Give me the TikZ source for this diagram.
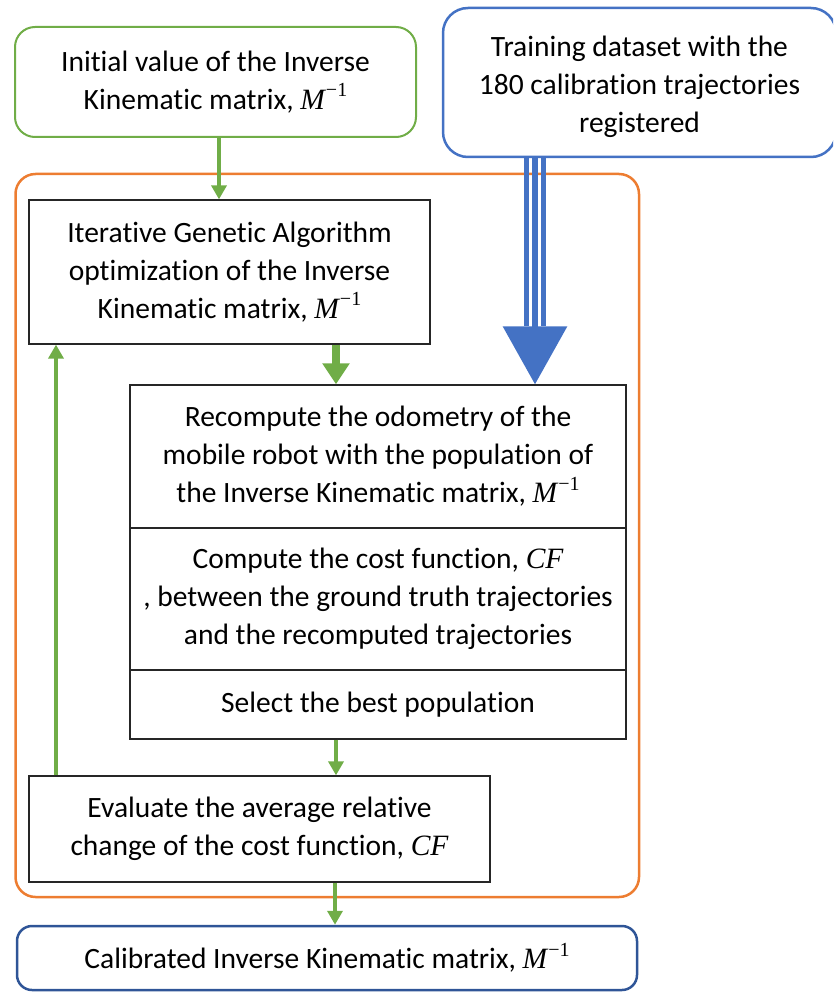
\documentclass[tikz,border=0pt]{standalone}
\usepackage{fontspec}
\setmainfont{Carlito}[Ligatures=NoCommon]
\newfontfamily\mfont{Liberation Serif}
\newcommand{\Minv}{{\mfont\itshape M}\kern1pt\raisebox{0.42em}{\fontsize{20}{20}\selectfont\mfont −1}}
\newcommand{\CFm}{{\mfont\itshape CF}}
\usetikzlibrary{arrows.meta,calc}
\definecolor{ggreen}{HTML}{70AD47}
\definecolor{oorange}{HTML}{ED7D31}
\definecolor{bblue}{HTML}{4472C4}
\definecolor{dblue}{HTML}{2F5597}
\begin{document}
\begin{tikzpicture}[x=1pt,y=-1pt,
  txt/.style={font=\fontsize{29.5}{38}\selectfont, align=center, inner sep=0pt},
  blackbox/.style={txt, draw=black!85, line width=1.3pt, rectangle},
  greenbox/.style={txt, draw=ggreen, line width=2pt, rounded corners=20pt},
  bluebox/.style={txt, draw=bblue, line width=2.5pt, rounded corners=25pt},
  darkbox/.style={txt, draw=dblue, line width=2.5pt, rounded corners=15pt},
  outerbox/.style={draw=oorange, line width=2.5pt, rounded corners=20pt, inner sep=0pt},
  garrow/.style={draw=ggreen, line width=3.5pt, -{Triangle[length=14pt,width=15pt]}},
  gthick/.style={draw=ggreen, line width=7.5pt, -{Triangle[length=21pt,width=26pt]}},
]
\clip (0,0) rectangle (833,992);
\useasboundingbox (0,0) rectangle (833,992);

\node[outerbox, minimum width=623.5pt, minimum height=723pt] (outer) at (327.25,535.5) {};

\node[greenbox, minimum width=401pt, minimum height=110pt] (init) at (215.5,82)
  {Initial value of the Inverse\\Kinematic matrix, \Minv};
\node[bluebox, minimum width=393pt, minimum height=149pt] (train) at (639.5,82.5)
  {\raisebox{-4pt}[\height][\depth]{\parbox{380pt}{\centering Training dataset with the\\180 calibration trajectories\\registered}}};

\node[blackbox, minimum width=401pt, minimum height=144pt] (iter) at (229.5,272)
  {Iterative Genetic Algorithm\\optimization of the Inverse\\Kinematic matrix, \Minv};
\node[blackbox, minimum width=496pt, minimum height=143pt] (recomp) at (378,456.5)
  {Recompute the odometry of the\\mobile robot with the population of\\the Inverse Kinematic matrix, \Minv};
\node[blackbox, minimum width=496pt, minimum height=142pt] (cost) at (378,599)
  {Compute the cost function, \CFm\\, between the ground truth trajectories\\and the recomputed trajectories};
\node[blackbox, minimum width=496pt, minimum height=69pt] (select) at (378,704.5)
  {Select the best population};
\node[blackbox, minimum width=461pt, minimum height=106pt] (eval) at (259.5,829)
  {Evaluate the average relative\\change of the cost function, \CFm};
\node[darkbox, minimum width=620pt, minimum height=64pt] (calib) at (327,958)
  {Calibrated Inverse Kinematic matrix, \Minv};

% connectors
\coordinate (a1) at ($(init.south)+(3.5,0)$);
\draw[garrow] (a1) -- (a1 |- iter.north);

\coordinate (t1) at ($(iter.south)+(106.5,0)$);
\draw[gthick] (t1) -- (t1 |- recomp.north);

\coordinate (s1) at ($(select.south)+(-42,0)$);
\draw[garrow] (s1) -- (s1 |- eval.north);

\coordinate (e1) at ($(eval.north)+(-203.5,0)$);
\draw[garrow] (e1) -- (e1 |- iter.south);

\coordinate (e2) at ($(eval.south)+(75.5,0)$);
\draw[garrow] (e2) -- (e2 |- calib.north);

\coordinate (b1) at ($(train.south)+(-104.5,0)$);
\coordinate (bl) at ($(b1)+(-8.5,0)$);
\coordinate (br) at ($(b1)+(8.5,0)$);
\draw[bblue, line width=4.5pt, shorten >=58pt] (bl) -- (bl |- recomp.north);
\draw[bblue, line width=4.5pt, shorten >=58pt] (br) -- (br |- recomp.north);
\draw[bblue, line width=6.5pt, -{Triangle[length=58pt,width=63pt]}] (b1) -- (b1 |- recomp.north);
\end{tikzpicture}
\end{document}
